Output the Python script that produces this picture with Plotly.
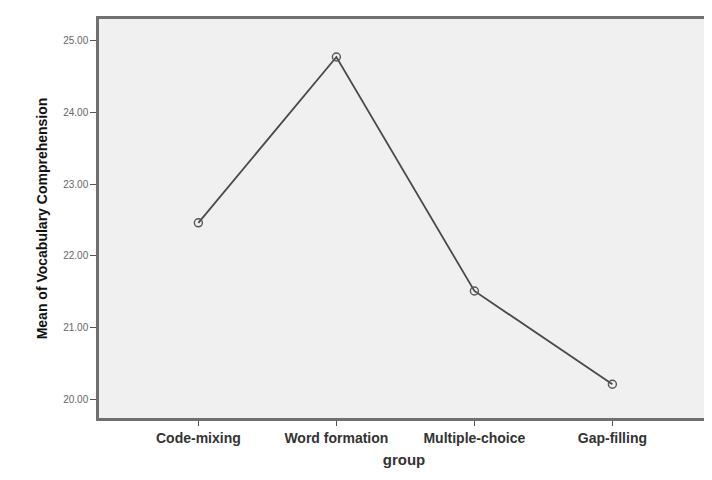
import plotly.graph_objects as go

categories = ["Code-mixing", "Word formation", "Multiple-choice", "Gap-filling"]
means = [22.46, 24.77, 21.51, 20.21]
y_ticks = [20, 21, 22, 23, 24, 25]
y_tick_labels = ["20.00", "21.00", "22.00", "23.00", "24.00", "25.00"]

fig = go.Figure()
fig.add_trace(go.Scatter(
    x=list(range(len(categories))), y=means, mode="lines+markers",
    line=dict(color="#4a4a4a", width=1.8),
    marker=dict(symbol="circle-open", size=8, color="#555555", line=dict(width=1.4)),
    showlegend=False,
))

fig.update_layout(
    width=712, height=480,
    margin=dict(l=91, r=11, t=8, b=70),
    paper_bgcolor="white", plot_bgcolor="#f0f0f0",
    font=dict(family="Liberation Sans, Arial, sans-serif", color="#222222"),
)
fig.update_xaxes(
    range=[-0.72, 3.70], tickmode="array",
    tickvals=list(range(len(categories))), ticktext=[f"<b>{c}</b>" for c in categories],
    tickfont=dict(size=14, color="#333333"),
    ticks="outside", ticklen=5, tickcolor="#555555",
    showgrid=False, zeroline=False,
    showline=True, linecolor="#707070", linewidth=2.5, mirror=True,
    title=dict(text="<b>group</b>", font=dict(size=15, color="#333333"), standoff=10),
)
fig.update_yaxes(
    range=[19.74, 25.30], tickmode="array", tickvals=y_ticks, ticktext=y_tick_labels,
    tickfont=dict(size=10, color="#666666"),
    ticks="outside", ticklen=6, tickcolor="#555555",
    showgrid=False, zeroline=False,
    showline=True, linecolor="#707070", linewidth=2.5, mirror=True,
    title=dict(text="<b>Mean of Vocabulary Comprehension</b>", font=dict(size=14, color="#111111"), standoff=13),
)

fig.write_html("out.html")
